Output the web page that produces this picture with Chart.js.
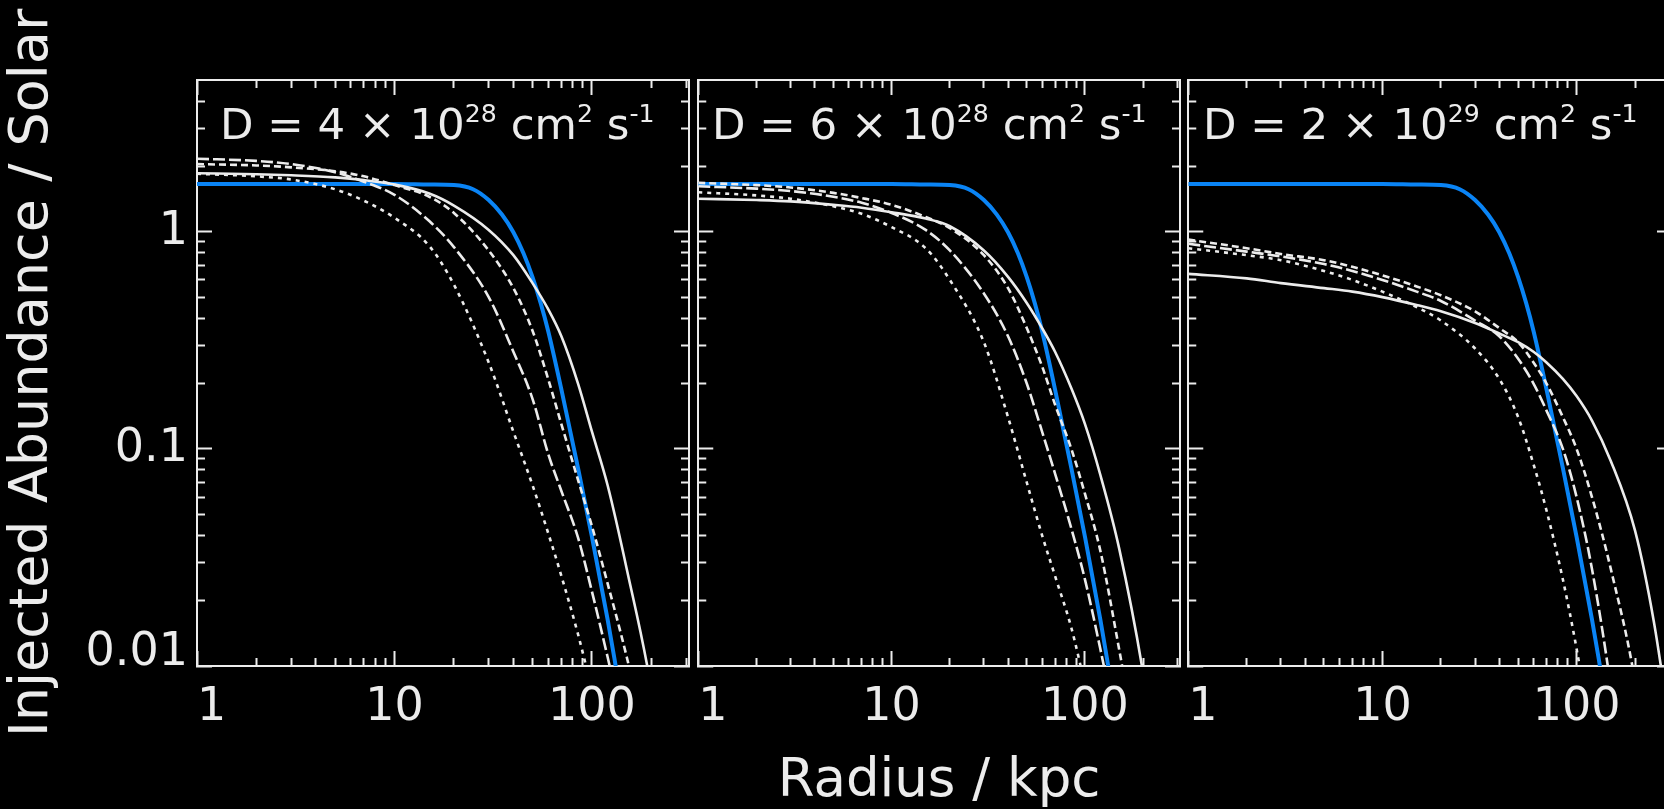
<!DOCTYPE html>
<html>
<head>
<meta charset="utf-8">
<script src="https://cdn.jsdelivr.net/npm/chart.js@4.4.1/dist/chart.umd.min.js"></script>
<style>
  html, body { margin: 0; padding: 0; background: #000; overflow: hidden; }
  body { width: 1664px; height: 809px; position: relative; }
  canvas { position: absolute; top: 0; }
  .note { position: absolute; top: 103px; color: #ececec; font-family: "DejaVu Sans"; font-size: 43.5px; line-height: 1; white-space: nowrap; }
  .note sup { font-size: 0.58em; vertical-align: 17px; line-height: 0; }
</style>
</head>
<body>
<canvas id="panel1" width="700" height="809" style="left:0px"></canvas>
<canvas id="panel2" width="560" height="809" style="left:640px"></canvas>
<canvas id="panel3" width="560" height="809" style="left:1130px"></canvas>
<div class="note" style="left:220px">D = 4 × 10<sup>28</sup> cm<sup>2</sup> s<sup>-1</sup></div>
<div class="note" style="left:712px">D = 6 × 10<sup>28</sup> cm<sup>2</sup> s<sup>-1</sup></div>
<div class="note" style="left:1203px">D = 2 × 10<sup>29</sup> cm<sup>2</sup> s<sup>-1</sup></div>
<script>
// radius grid (kpc) shared by the white model curves
const radius = [1, 2, 3, 5, 7, 10, 15, 20, 30, 40, 50, 60, 70, 85, 100, 120, 150, 200, 250, 300];

// observed profile (blue), same in every panel
const blueRadius = [1, 5, 10, 15, 20, 25, 30, 35, 40, 45, 50, 55, 60, 70, 85, 100, 120, 130, 150];
const observed = [1.66, 1.66, 1.66, 1.65, 1.64, 1.57, 1.40, 1.20, 0.995, 0.796, 0.618, 0.469, 0.349, 0.188, 0.0816, 0.0393, 0.0164, 0.0108, 0.0049];

// D = 4e28
const dotted1 = [1.85, 1.80, 1.74, 1.57, 1.39, 1.16, 0.86, 0.57, 0.25, 0.12, 0.068, 0.041, 0.026, 0.014, 0.0078, 0.0042, null, null, null, null];
const longDash1 = [2.17, 2.12, 2.05, 1.88, 1.70, 1.48, 1.12, 0.85, 0.50, 0.28, 0.17, 0.095, 0.064, 0.039, 0.022, 0.011, 0.0045, null, null, null];
const shortDash1 = [2.05, 2.02, 1.98, 1.90, 1.80, 1.64, 1.45, 1.22, 0.82, 0.55, 0.35, 0.21, 0.13, 0.072, 0.044, 0.024, 0.011, 0.0035, null, null];
const solid1 = [1.86, 1.84, 1.82, 1.78, 1.73, 1.65, 1.50, 1.32, 1.02, 0.78, 0.58, 0.44, 0.33, 0.20, 0.12, 0.068, 0.028, 0.0078, 0.0018, null];

// D = 6e28
const dotted2 = [1.52, 1.47, 1.42, 1.31, 1.21, 1.05, 0.84, 0.60, 0.31, 0.14, 0.07, 0.04, 0.026, 0.015, 0.0082, 0.0042, null, null, null, null];
const longDash2 = [1.62, 1.58, 1.54, 1.45, 1.36, 1.22, 1.02, 0.82, 0.52, 0.33, 0.20, 0.12, 0.077, 0.043, 0.025, 0.012, 0.0045, null, null, null];
const shortDash2 = [1.68, 1.64, 1.60, 1.51, 1.43, 1.33, 1.17, 1.04, 0.78, 0.55, 0.36, 0.24, 0.16, 0.10, 0.062, 0.034, 0.012, 0.0028, null, null];
const solid2 = [1.42, 1.40, 1.38, 1.33, 1.29, 1.23, 1.15, 1.06, 0.82, 0.62, 0.47, 0.36, 0.28, 0.19, 0.13, 0.076, 0.035, 0.0092, 0.0022, null];

// D = 2e29
const dotted3 = [0.84, 0.78, 0.74, 0.66, 0.60, 0.53, 0.45, 0.39, 0.29, 0.21, 0.14, 0.085, 0.052, 0.025, 0.012, 0.0045, null, null, null, null];
const longDash3 = [0.88, 0.81, 0.77, 0.71, 0.66, 0.60, 0.53, 0.48, 0.39, 0.33, 0.26, 0.20, 0.15, 0.10, 0.06, 0.028, 0.008, 0.001, null, null];
const shortDash3 = [0.92, 0.84, 0.79, 0.74, 0.69, 0.63, 0.56, 0.51, 0.43, 0.36, 0.31, 0.25, 0.20, 0.14, 0.10, 0.06, 0.028, 0.0085, 0.002, null];
const solid3 = [0.64, 0.61, 0.58, 0.55, 0.53, 0.50, 0.46, 0.43, 0.38, 0.34, 0.31, 0.28, 0.25, 0.21, 0.175, 0.135, 0.088, 0.042, 0.016, 0.0055];

// ticks
const xMajor = [1, 10, 100];
const xLabels = ['  1', '10', '100'];
const xMinor = [2, 3, 4, 5, 6, 7, 8, 9, 20, 30, 40, 50, 60, 70, 80, 90, 200, 300];
const yMajor = [0.01, 0.1, 1];
const yLabels = [['0.01', ''], '0.1', '1'];
const yMinor = [0.02, 0.03, 0.04, 0.05, 0.06, 0.07, 0.08, 0.09, 0.2, 0.3, 0.4, 0.5, 0.6, 0.7, 0.8, 0.9, 2, 3, 4];

const ink = '#ececec';
const blue = '#0a84f5';
const xMin = 1, xMax = 310, yMin = 0.01, yMax = 5;

Chart.defaults.font.family = 'DejaVu Sans';
Chart.defaults.color = ink;

function curve(values, dash) {
    return {
        data: radius.map((r, i) => ({ x: r, y: values[i] })),
        borderColor: ink,
        borderWidth: 2.6,
        borderDash: dash,
        pointRadius: 0,
        cubicInterpolationMode: 'monotone',
        fill: false
    };
}

function tickOnly(axis, position, values, len) {
    return {
        type: 'logarithmic',
        axis: axis,
        position: position,
        min: axis === 'x' ? xMin : yMin,
        max: axis === 'x' ? xMax : yMax,
        weight: -1,
        afterBuildTicks: s => { s.ticks = values.map(v => ({ value: v })); },
        afterFit: s => { if (axis === 'x') s.height = 0; else s.width = 0; },
        ticks: { display: false },
        grid: { drawOnChartArea: false, color: ink, tickLength: -len, tickWidth: 2 },
        border: { display: position === 'top' || position === 'right', color: ink, width: 2 }
    };
}

function makePanel(id, lines, opts) {
    const datasets = [
        curve(lines[0], [4, 5]),
        curve(lines[1], [12, 4]),
        curve(lines[2], [7, 4]),
        curve(lines[3], []),
        {
            data: blueRadius.map((r, i) => ({ x: r, y: observed[i] })),
            borderColor: blue,
            borderWidth: 4,
            pointRadius: 0,
            cubicInterpolationMode: 'monotone',
            fill: false
        }
    ];

    new Chart(document.getElementById(id), {
        type: 'line',
        data: { datasets: datasets },
        options: {
            responsive: false,
            animation: false,
            devicePixelRatio: 1,
            layout: { padding: { top: 80, bottom: 0, left: opts.padLeft, right: opts.padRight } },
            plugins: { legend: { display: false }, tooltip: { enabled: false } },
            scales: {
                x: {
                    type: 'logarithmic',
                    position: 'bottom',
                    min: xMin,
                    max: xMax,
                    afterBuildTicks: s => { s.ticks = xMajor.map(v => ({ value: v })); },
                    afterFit: s => { s.height = 143; },
                    ticks: {
                        autoSkip: false,
                        maxRotation: 0,
                        padding: 29,
                        font: { size: 46 },
                        color: ink,
                        callback: (v, i) => xLabels[i]
                    },
                    grid: { drawOnChartArea: false, color: ink, tickLength: -15, tickWidth: 2 },
                    border: { display: true, color: ink, width: 2 },
                    title: {
                        display: opts.xTitle,
                        text: 'Radius / kpc',
                        color: ink,
                        font: { size: 53, lineHeight: 1 },
                        padding: { top: 0, bottom: 0 }
                    }
                },
                xMinor: tickOnly('x', 'bottom', xMinor, 8),
                xTop: tickOnly('x', 'top', xMajor, 15),
                xTopMinor: tickOnly('x', 'top', xMinor, 8),
                y: {
                    type: 'logarithmic',
                    position: 'left',
                    min: yMin,
                    max: yMax,
                    afterBuildTicks: s => { s.ticks = yMajor.map(v => ({ value: v })); },
                    afterFit: s => { s.width = opts.yWidth; },
                    ticks: {
                        display: opts.yLabels,
                        autoSkip: false,
                        padding: 24,
                        font: { size: 46, lineHeight: 0.57 },
                        color: ink,
                        callback: (v, i) => yLabels[i]
                    },
                    grid: { drawOnChartArea: false, color: ink, tickLength: -15, tickWidth: 2 },
                    border: { display: true, color: ink, width: 2 },
                    title: {
                        display: opts.yLabels,
                        text: 'Injected Abundance / Solar',
                        color: ink,
                        font: { size: 54, lineHeight: 1 },
                        padding: { top: 6, bottom: 0 }
                    }
                },
                yMinor: tickOnly('y', 'left', yMinor, 8),
                yRight: tickOnly('y', 'right', yMajor, 15),
                yRightMinor: tickOnly('y', 'right', yMinor, 8)
            }
        }
    });
}

makePanel('panel1', [dotted1, longDash1, shortDash1, solid1], { padLeft: 0, padRight: 11, yWidth: 197, yLabels: true, xTitle: false });
makePanel('panel2', [dotted2, longDash2, shortDash2, solid2], { padLeft: 49, padRight: 20, yWidth: 0, yLabels: false, xTitle: true });
makePanel('panel3', [dotted3, longDash3, shortDash3, solid3], { padLeft: 50, padRight: 18, yWidth: 0, yLabels: false, xTitle: false });
</script>
</body>
</html>
